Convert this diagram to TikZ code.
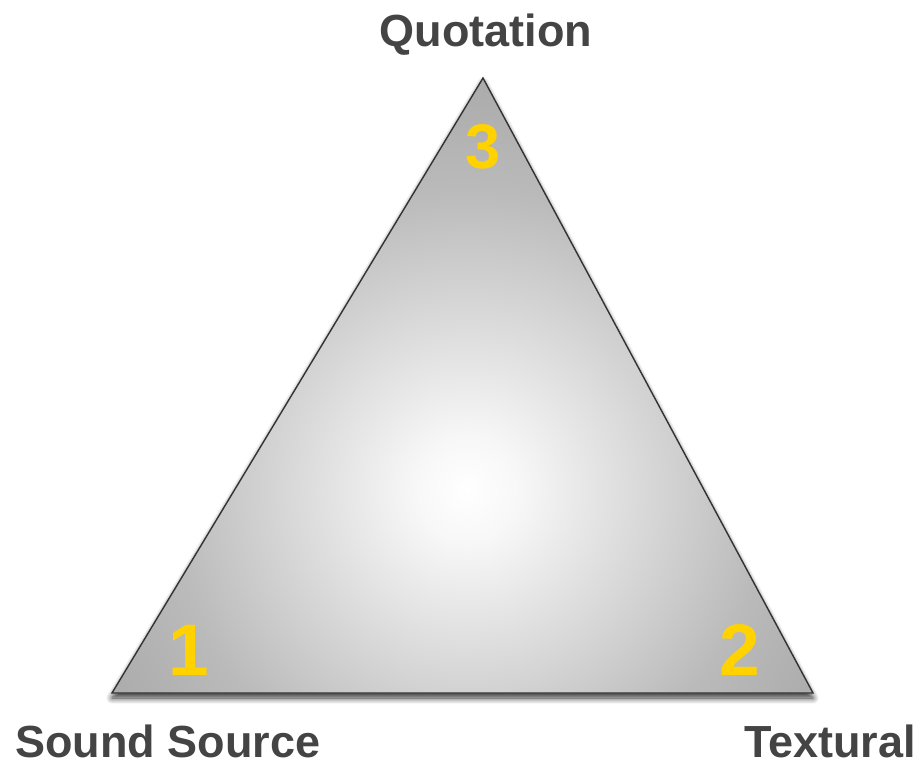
\documentclass[tikz,border=0pt]{standalone}
\usepackage{fontspec}
\setmainfont{Liberation Sans}
\usepackage{tikz}
\usetikzlibrary{shadows.blur}

\definecolor{labelgray}{HTML}{444444}
\definecolor{cornergold}{HTML}{FFD200}
\definecolor{edgegray}{HTML}{333333}

% white glow in the middle, grey towards the edges
\pgfdeclareradialshading{glow}{\pgfpoint{0bp}{0bp}}{%
  color(0bp)=(white); color(3bp)=(white!97!black);
  color(9.6bp)=(white!86!black); color(17.4bp)=(white!73!black);
  color(25bp)=(white!66!black); color(50bp)=(white!66!black)}

\begin{document}
\begin{tikzpicture}[x=1pt,y=-1pt,
  corner/.style={font=\fontsize{45}{50}\selectfont\bfseries,text=labelgray,inner sep=0pt,anchor=base},
  num/.style={font=\fontsize{73}{80}\selectfont\bfseries,text=cornergold,inner sep=0pt,anchor=base}]
\useasboundingbox (0,0) rectangle (920,763);
\coordinate (top) at (483,78);
\coordinate (left) at (112,693);
\coordinate (right) at (813,693);
% triangle with shadow, shaded face and outline
\fill[white,blur shadow={shadow xshift=0pt,shadow yshift=-5pt,shadow blur steps=10,shadow blur radius=6pt,shadow opacity=80}]
  (top) -- (left) -- (right) -- cycle;
\begin{scope}
\clip (top) -- (left) -- (right) -- cycle;
\shade[shading=glow] (467,490) circle (430);
\end{scope}
\draw[edgegray,line width=1.4pt,line join=miter] (top) -- (left) -- (right) -- cycle;
% numbers in the corners
\node[num,font=\fontsize{63}{70}\selectfont\bfseries] (n3) at (483,168) {3};
\node[num] (n1) at (189,675) {1};
\node[num] (n2) at (740,675) {2};
% labels
\node[corner] (quotation) at (486,46) {Quotation};
\node[corner] (soundsrc) at (168,757) {Sound Source};
\node[corner] (textural) at (830,757) {Textural};
\end{tikzpicture}
\end{document}
